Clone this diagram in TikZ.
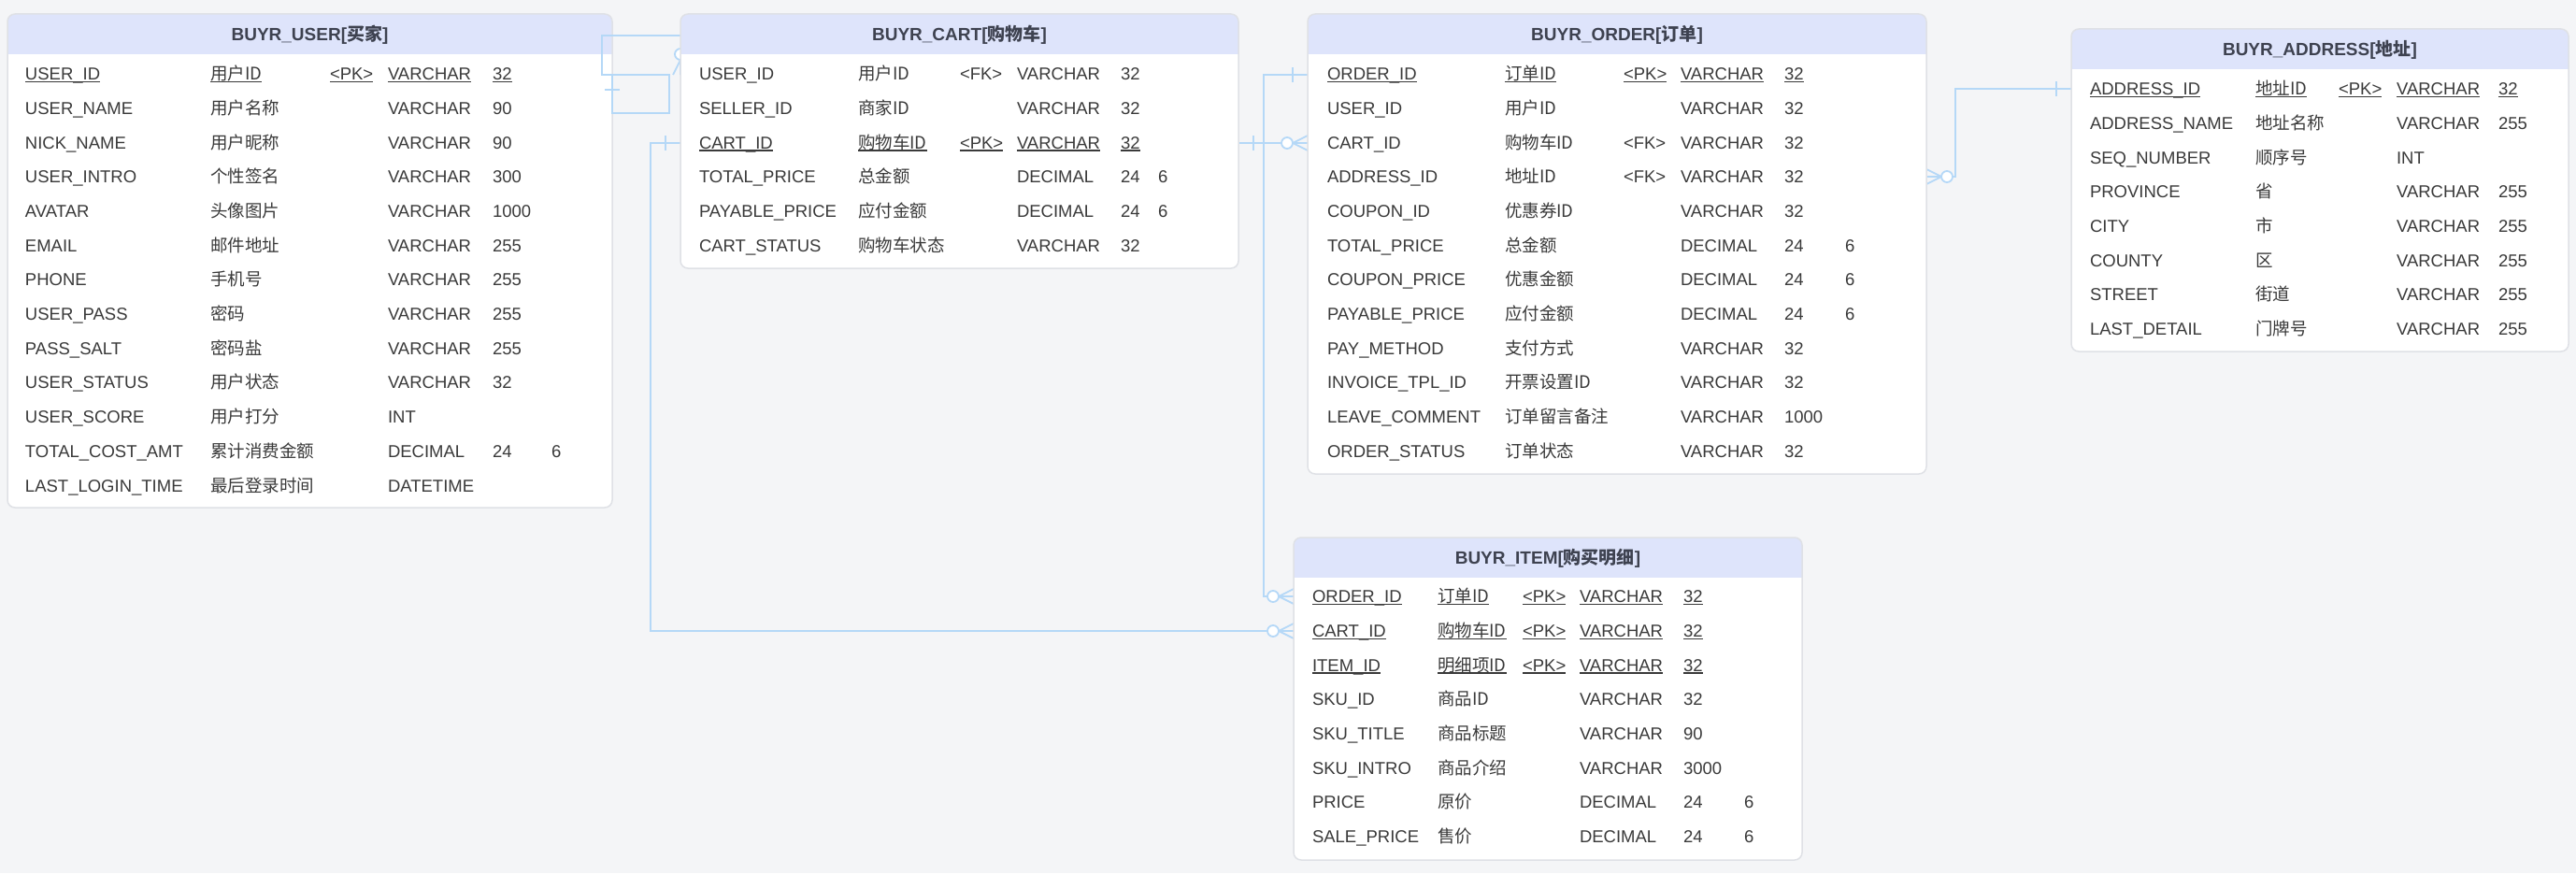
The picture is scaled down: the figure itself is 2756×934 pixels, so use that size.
\documentclass[tikz,border=0pt]{standalone}
\usepackage{fontspec}
\setmainfont{Liberation Sans}
\newfontfamily\cjkfam{Noto Sans CJK SC}
\usetikzlibrary{fit}
\definecolor{bgc}{HTML}{F4F5F7}
\definecolor{hdrc}{HTML}{DEE4FB}
\definecolor{bordc}{HTML}{DFE1E6}
\definecolor{txtc}{HTML}{3A3A3A}
\definecolor{ttlc}{HTML}{3E4250}
\definecolor{linec}{HTML}{B5D8F7}
\newcommand\latf{\fontsize{18.5}{22}\selectfont}
\newcommand\cjkf{\cjkfam\fontsize{18.5}{22}\selectfont}
\newcommand\ttlf{\bfseries\fontsize{19}{23}\selectfont}
\newcounter{rc}
\newcommand\cellx[3]{%
  \if\relax\detokenize{#3}\relax\else
    \stepcounter{rc}%
    \node[cellt,font=#2] (c\arabic{rc}) at (#1,\by) {#3};%
    \ifnum\ulflag=1
      \draw[ulline] ([yshift=-2pt]c\arabic{rc}.base west) -- ([yshift=-2pt]c\arabic{rc}.base east);%
    \fi
  \fi}
\newcommand\tabrow[8]{%
  \def\ulflag{#8}%
  \pgfmathsetmacro\by{\ystart+#1*36.7+6.6}%
  \cellx{\cA}{\latf}{#2}\cellx{\cB}{\cjkf}{#3}\cellx{\cC}{\latf}{#4}%
  \cellx{\cD}{\latf}{#5}\cellx{\cE}{\latf}{#6}\cellx{\cF}{\latf}{#7}}
\newcommand\etable[7]{%
  \begin{scope}
    \clip[rounded corners=8pt] (#2,#3) rectangle (#4,#5);
    \fill[white] (#2,#3) rectangle (#4,#5);
    \fill[hdrc] (#2,#3) rectangle (#4,#6);
  \end{scope}
  \node[tbox, fit={(#2,#3) (#4,#5)}] (#1) {};
  \node[titlet] (#1-title) at ({(#2+#4)/2},{(#3+#6)/2+7}) {#7};}
\pgfdeclarelayer{bg}
\pgfdeclarelayer{conn}
\pgfsetlayers{bg,conn,main}
\tikzset{
  cellt/.style={anchor=base west, inner sep=0pt, outer sep=0pt, text=txtc},
  titlet/.style={anchor=base, inner sep=0pt, text=ttlc, font=\ttlf},
  ulline/.style={draw=txtc, line width=1.2pt},
  tbox/.style={draw=bordc, line width=1.5pt, rounded corners=8pt, inner sep=0pt, outer sep=0pt},
  connl/.style={draw=linec, line width=1.8pt},
  onemark/.pic={\draw[connl] (16,-8) -- (16,8);},
  zmany/.pic={\draw[connl] (0,-8) -- (16,0) -- (0,8) (0,0) -- (16,0);
              \draw[connl, fill=white] (22,0) circle (6);}
}
\begin{document}
\begin{tikzpicture}[x=1pt,y=-1pt]
\useasboundingbox (0,0) rectangle (2756,934);
\begin{pgfonlayer}{bg}
\fill[bgc] (0,0) rectangle (2756,934);
% ---------- BUYR_USER ----------
\etable{user}{8}{15}{655}{543}{58}{BUYR\_USER[{\cjkfam 买家}]}
\def\ystart{79}\def\cA{27}\def\cB{225}\def\cC{353}\def\cD{415}\def\cE{527}\def\cF{590}
\tabrow{0}{USER\_ID}{用户ID}{<PK>}{VARCHAR}{32}{}{1}
\tabrow{1}{USER\_NAME}{用户名称}{}{VARCHAR}{90}{}{0}
\tabrow{2}{NICK\_NAME}{用户昵称}{}{VARCHAR}{90}{}{0}
\tabrow{3}{USER\_INTRO}{个性签名}{}{VARCHAR}{300}{}{0}
\tabrow{4}{AVATAR}{头像图片}{}{VARCHAR}{1000}{}{0}
\tabrow{5}{EMAIL}{邮件地址}{}{VARCHAR}{255}{}{0}
\tabrow{6}{PHONE}{手机号}{}{VARCHAR}{255}{}{0}
\tabrow{7}{USER\_PASS}{密码}{}{VARCHAR}{255}{}{0}
\tabrow{8}{PASS\_SALT}{密码盐}{}{VARCHAR}{255}{}{0}
\tabrow{9}{USER\_STATUS}{用户状态}{}{VARCHAR}{32}{}{0}
\tabrow{10}{USER\_SCORE}{用户打分}{}{INT}{}{}{0}
\tabrow{11}{TOTAL\_COST\_AMT}{累计消费金额}{}{DECIMAL}{24}{6}{0}
\tabrow{12}{LAST\_LOGIN\_TIME}{最后登录时间}{}{DATETIME}{}{}{0}
\end{pgfonlayer}
% ---------- BUYR_CART ----------
\etable{cart}{728}{15}{1325}{287}{58}{BUYR\_CART[{\cjkfam 购物车}]}
\def\ystart{79}\def\cA{748}\def\cB{918}\def\cC{1027}\def\cD{1088}\def\cE{1199}\def\cF{1239}
\tabrow{0}{USER\_ID}{用户ID}{<FK>}{VARCHAR}{32}{}{0}
\tabrow{1}{SELLER\_ID}{商家ID}{}{VARCHAR}{32}{}{0}
\tabrow{2}{CART\_ID}{购物车ID}{<PK>}{VARCHAR}{32}{}{1}
\tabrow{3}{TOTAL\_PRICE}{总金额}{}{DECIMAL}{24}{6}{0}
\tabrow{4}{PAYABLE\_PRICE}{应付金额}{}{DECIMAL}{24}{6}{0}
\tabrow{5}{CART\_STATUS}{购物车状态}{}{VARCHAR}{32}{}{0}
% ---------- BUYR_ORDER ----------
\etable{order}{1399}{15}{2061}{507}{58}{BUYR\_ORDER[{\cjkfam 订单}]}
\def\ystart{79}\def\cA{1420}\def\cB{1610}\def\cC{1737}\def\cD{1798}\def\cE{1909}\def\cF{1974}
\tabrow{0}{ORDER\_ID}{订单ID}{<PK>}{VARCHAR}{32}{}{1}
\tabrow{1}{USER\_ID}{用户ID}{}{VARCHAR}{32}{}{0}
\tabrow{2}{CART\_ID}{购物车ID}{<FK>}{VARCHAR}{32}{}{0}
\tabrow{3}{ADDRESS\_ID}{地址ID}{<FK>}{VARCHAR}{32}{}{0}
\tabrow{4}{COUPON\_ID}{优惠券ID}{}{VARCHAR}{32}{}{0}
\tabrow{5}{TOTAL\_PRICE}{总金额}{}{DECIMAL}{24}{6}{0}
\tabrow{6}{COUPON\_PRICE}{优惠金额}{}{DECIMAL}{24}{6}{0}
\tabrow{7}{PAYABLE\_PRICE}{应付金额}{}{DECIMAL}{24}{6}{0}
\tabrow{8}{PAY\_METHOD}{支付方式}{}{VARCHAR}{32}{}{0}
\tabrow{9}{INVOICE\_TPL\_ID}{开票设置ID}{}{VARCHAR}{32}{}{0}
\tabrow{10}{LEAVE\_COMMENT}{订单留言备注}{}{VARCHAR}{1000}{}{0}
\tabrow{11}{ORDER\_STATUS}{订单状态}{}{VARCHAR}{32}{}{0}
% ---------- BUYR_ADDRESS ----------
\etable{address}{2216}{31}{2748}{376}{74}{BUYR\_ADDRESS[{\cjkfam 地址}]}
\def\ystart{95}\def\cA{2236}\def\cB{2413}\def\cC{2502}\def\cD{2564}\def\cE{2673}\def\cF{2740}
\tabrow{0}{ADDRESS\_ID}{地址ID}{<PK>}{VARCHAR}{32}{}{1}
\tabrow{1}{ADDRESS\_NAME}{地址名称}{}{VARCHAR}{255}{}{0}
\tabrow{2}{SEQ\_NUMBER}{顺序号}{}{INT}{}{}{0}
\tabrow{3}{PROVINCE}{省}{}{VARCHAR}{255}{}{0}
\tabrow{4}{CITY}{市}{}{VARCHAR}{255}{}{0}
\tabrow{5}{COUNTY}{区}{}{VARCHAR}{255}{}{0}
\tabrow{6}{STREET}{街道}{}{VARCHAR}{255}{}{0}
\tabrow{7}{LAST\_DETAIL}{门牌号}{}{VARCHAR}{255}{}{0}
% ---------- BUYR_ITEM ----------
\etable{item}{1384}{575}{1928}{920}{618}{BUYR\_ITEM[{\cjkfam 购买明细}]}
\def\ystart{638}\def\cA{1404}\def\cB{1538}\def\cC{1629}\def\cD{1690}\def\cE{1801}\def\cF{1866}
\tabrow{0}{ORDER\_ID}{订单ID}{<PK>}{VARCHAR}{32}{}{1}
\tabrow{1}{CART\_ID}{购物车ID}{<PK>}{VARCHAR}{32}{}{1}
\tabrow{2}{ITEM\_ID}{明细项ID}{<PK>}{VARCHAR}{32}{}{1}
\tabrow{3}{SKU\_ID}{商品ID}{}{VARCHAR}{32}{}{0}
\tabrow{4}{SKU\_TITLE}{商品标题}{}{VARCHAR}{90}{}{0}
\tabrow{5}{SKU\_INTRO}{商品介绍}{}{VARCHAR}{3000}{}{0}
\tabrow{6}{PRICE}{原价}{}{DECIMAL}{24}{6}{0}
\tabrow{7}{SALE\_PRICE}{售价}{}{DECIMAL}{24}{6}{0}
% ---------- connectors ----------
\begin{pgfonlayer}{conn}
% USER -- CART (self-routed loop)
\coordinate (lpA) at (644,80);
\coordinate (lpB) at (716,80);
\draw[connl] (cart.west |- 0,38) -| (lpA) -- (lpB) |- (user.east |- 0,121) -- (user.east |- 0,80);
\pic[rotate=-90] at (user.east |- 0,80) {onemark};
\pic[rotate=90] at (cart.west |- 0,80) {zmany};
% CART -- ORDER
\draw[connl] (cart.east |- 0,153) -- (order.west |- 0,153);
\pic at (cart.east |- 0,153) {onemark};
\pic[rotate=180] at (order.west |- 0,153) {zmany};
% ORDER -- ITEM
\coordinate (oiA) at (1352,638);
\draw[connl] (order.west |- 0,80) -| (oiA) -- (item.west |- 0,638);
\pic[rotate=180] at (order.west |- 0,80) {onemark};
\pic[rotate=180] at (item.west |- 0,638) {zmany};
% CART -- ITEM
\coordinate (ciA) at (696,675);
\draw[connl] (cart.west |- 0,153) -| (ciA) -- (item.west |- 0,675);
\pic[rotate=180] at (cart.west |- 0,153) {onemark};
\pic[rotate=180] at (item.west |- 0,675) {zmany};
% ADDRESS -- ORDER
\coordinate (aoA) at (2092,189);
\draw[connl] (address.west |- 0,95) -| (aoA) -- (order.east |- 0,189);
\pic[rotate=180] at (address.west |- 0,95) {onemark};
\pic at (order.east |- 0,189) {zmany};
\end{pgfonlayer}
\end{tikzpicture}
\end{document}
